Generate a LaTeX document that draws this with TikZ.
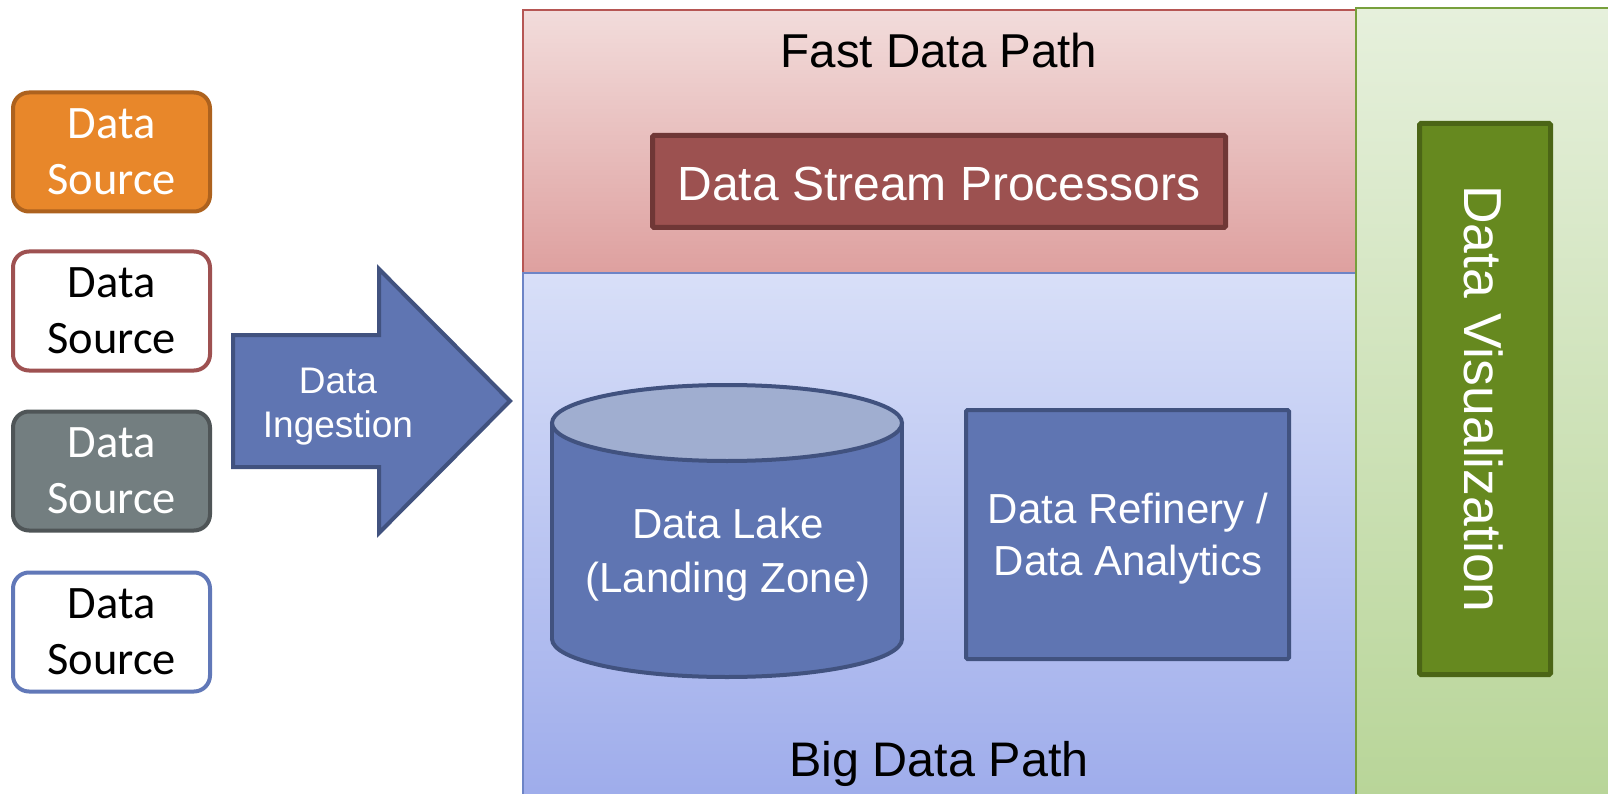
\documentclass[tikz,border=0pt]{standalone}
\usepackage{fontspec}
\setmainfont{Liberation Sans}
\newfontfamily\srcfont{Carlito}

% palette
\definecolor{srcOrange}{HTML}{E8872A}
\definecolor{srcOrangeLine}{HTML}{AD621E}
\definecolor{srcRedLine}{HTML}{9E5151}
\definecolor{srcGray}{HTML}{737E80}
\definecolor{srcGrayLine}{HTML}{4F5557}
\definecolor{srcBlueLine}{HTML}{6178B8}
\definecolor{blueFill}{HTML}{5F75B2}
\definecolor{blueLine}{HTML}{41527F}
\definecolor{lakeTop}{HTML}{A0AED0}
\definecolor{fastTop}{HTML}{F2DCDB}
\definecolor{fastBot}{HTML}{DEA09F}
\definecolor{fastLine}{HTML}{B65654}
\definecolor{bigTop}{HTML}{D8DFF8}
\definecolor{bigBot}{HTML}{9EACEB}
\definecolor{bigLine}{HTML}{6D84C6}
\definecolor{visTop}{HTML}{E6F0DC}
\definecolor{visBot}{HTML}{B8D598}
\definecolor{visLine}{HTML}{77A03C}
\definecolor{streamFill}{HTML}{9C5150}
\definecolor{streamLine}{HTML}{6F3736}
\definecolor{visFill}{HTML}{66891F}
\definecolor{visBoxLine}{HTML}{4B6516}

\begin{document}
\begin{tikzpicture}[x=1pt,y=1pt,
  srcbox/.style={rectangle, rounded corners=16pt, line width=4pt,
    minimum width=197pt, minimum height=119pt, inner sep=0pt, align=center,
    font=\srcfont\fontsize{46.5}{56}\selectfont},
  panel/.style={rectangle, line width=2pt, inner sep=0pt},
  title/.style={inner sep=0pt, font=\fontsize{47.5}{54}\selectfont, text=black},
  solidbox/.style={rectangle, inner sep=0pt, rounded corners=1.5pt},
  whitetext/.style={inner sep=0pt, align=center, text=white}]

\useasboundingbox (0,0) rectangle (1608,-794);
\fill[white] (0,0) rectangle (1608,-794);

% data sources
\node[srcbox, fill=srcOrange, draw=srcOrangeLine, text=white] (src1) at (111.5,-152) {Data\\Source};
\node[srcbox, fill=white, draw=srcRedLine, text=black] (src2) at (111.5,-311) {Data\\Source};
\node[srcbox, fill=srcGray, draw=srcGrayLine, text=white] (src3) at (111.5,-471) {Data\\Source};
\node[srcbox, fill=white, draw=srcBlueLine, text=black] (src4) at (111.5,-632) {Data\\Source};

% ingestion arrow
\draw[fill=blueFill, draw=blueLine, line width=4pt, line join=miter]
  (233,-335) -- (379,-335) -- (379,-269) -- (510,-401) -- (379,-533)
  -- (379,-467) -- (233,-467) -- cycle;
\node[whitetext, font=\fontsize{37}{44}\selectfont] (ingest) at (338,-407) {Data\\Ingestion};

% the three background panels
\begin{scope}
\clip (0,0) rectangle (1608,-794);
\node[panel, top color=fastTop, bottom color=fastBot, draw=fastLine,
  minimum width=833pt, minimum height=263pt] (fast) at (939.5,-141.5) {};
\node[panel, top color=bigTop, bottom color=bigBot, draw=bigLine,
  minimum width=833pt, minimum height=527pt] (big) at (939.5,-536.5) {};
\node[panel, top color=visTop, bottom color=visBot, draw=visLine,
  minimum width=256pt, minimum height=792pt] (vispanel) at (1484,-404) {};
\end{scope}

\node[title, anchor=base] (fastlbl) at (939,-68) {Fast Data Path};
\node[title, font=\fontsize{48.5}{54}\selectfont, anchor=base] (biglbl) at (939,-776) {Big Data Path};

% stream processors
\node[solidbox, fill=streamFill, draw=streamLine, line width=5pt,
  minimum width=573pt, minimum height=92pt] (stream) at (939,-181.5) {};
\node[whitetext, font=\fontsize{48}{54}\selectfont] at (939,-184) {Data Stream Processors};

% visualization column
\node[solidbox, fill=visFill, draw=visBoxLine, line width=5pt,
  minimum width=131pt, minimum height=551pt] (vis) at (1485,-399) {};
\node[whitetext, rotate=-90, font=\fontsize{53.5}{60}\selectfont] at (1484,-399) {Data Visualization};

% data lake cylinder
\fill[blueFill, draw=blueLine, line width=4pt] (727,-639) ellipse [x radius=175, y radius=38];
\fill[blueFill] (552,-423) rectangle (902,-639);
\draw[blueLine, line width=4pt] (552,-423) -- (552,-639) (902,-423) -- (902,-639);
\filldraw[fill=lakeTop, draw=blueLine, line width=4pt] (727,-423) ellipse [x radius=175, y radius=38];
\node[whitetext, font=\fontsize{42}{54}\selectfont] (lake) at (728,-555) {Data Lake\\(Landing Zone)};

% refinery / analytics
\node[solidbox, fill=blueFill, draw=blueLine, line width=4pt,
  minimum width=323pt, minimum height=249pt] (refine) at (1127.5,-534.5) {};
\node[whitetext, font=\fontsize{42}{52}\selectfont] at (1128,-539) {Data Refinery /\\Data Analytics};

\end{tikzpicture}
\end{document}
